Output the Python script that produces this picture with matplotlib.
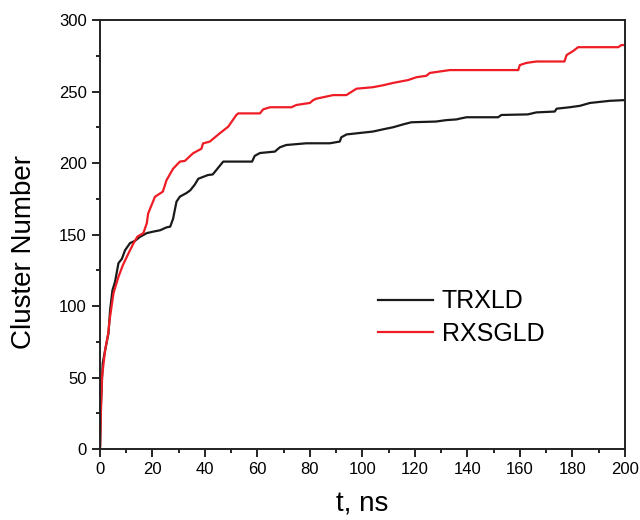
import matplotlib
matplotlib.use("Agg")
import matplotlib.pyplot as plt
from matplotlib.ticker import MultipleLocator

plt.rcParams['font.family'] = ['Liberation Sans', 'DejaVu Sans']

# TRXLD (black)
t_trxld = [0, 0.1, 0.4, 1.1, 2, 3.3, 3.9, 4.8, 5.8, 7.1, 8.4, 9.6, 11.5, 13.4, 15.4, 17.9,
           20.3, 23, 25.4, 26.8, 27.9, 29.2, 30.5, 33, 34.5, 36.2, 37.5, 41.2, 43, 45, 47,
           58, 59, 61, 66.7, 67.3, 68.6, 71, 78.7, 87.6, 91.4, 92, 94, 99, 104, 108, 111.7,
           115.5, 118.7, 128, 132, 135.9, 137, 139.7, 151.7, 153, 163, 166.3, 173.3, 174,
           179, 182.9, 186.7, 194.3, 200]
n_trxld = [0, 2, 30, 60, 69, 81, 97, 111, 117, 130, 133, 139, 144, 145.6, 148.5, 151,
           152, 153, 155, 155.5, 161, 173, 176.5, 179, 181, 185, 189, 191.6, 192, 196.5, 201,
           201, 205, 207, 208, 209, 211, 212.6, 213.8, 213.8, 215, 218, 220, 221, 222, 223.6, 225,
           227, 228.5, 229, 230, 230.5, 231, 232, 232, 233.6, 234, 235.4, 236, 238,
           239, 240, 242, 243.5, 244]

# RXSGLD (red)
t_rxsgld = [0, 0.1, 0.4, 0.8, 2, 3.2, 3.7, 5.2, 7.1, 8.8, 10.9, 12.8, 14.3, 16.6, 17.9,
            18.4, 21, 24, 25.4, 27.9, 30.5, 32.4, 35.5, 38.7, 39.3, 41.9, 45.7, 48.9, 52,
            52.7, 61, 62.2, 64.8, 73, 74.9, 80, 81.3, 82.5, 88.9, 93.9, 97.8, 104, 108,
            111.7, 117.4, 120.6, 124.4, 125.7, 129.5, 133.3, 159.4, 160, 162.5, 166.3, 177,
            177.8, 180.3, 182.2, 197.5, 198.7, 200]
n_rxsgld = [0, 2, 25, 50, 69, 81, 90, 109, 120.5, 128.7, 136.8, 143.8, 148.5, 151, 158,
            164.7, 176.4, 180, 188, 196, 201, 201.5, 206.8, 210, 213.7, 215, 220.8, 225.4, 233.6,
            234.7, 234.7, 237.5, 239, 239, 240.6, 242, 244, 245, 247.5, 247.5, 252, 253, 254.4,
            256, 258, 260, 261, 263, 264, 265, 265, 268.5, 270, 271, 271,
            275.5, 278.3, 281, 281, 282.5, 282.5]

fig = plt.figure(figsize=(6.4, 5.2), dpi=100)
ax = fig.add_axes([0.156, 0.1365, 0.8203, 0.825])

ax.plot(t_trxld, n_trxld, color='#1a1a1a', lw=1.6, label='TRXLD')
ax.plot(t_rxsgld, n_rxsgld, color='#ee1c24', lw=1.6, label='RXSGLD')

ax.set_xlim(0, 200)
ax.set_ylim(0, 300)
ax.xaxis.set_major_locator(MultipleLocator(20))
ax.xaxis.set_minor_locator(MultipleLocator(10))
ax.yaxis.set_major_locator(MultipleLocator(50))
ax.yaxis.set_minor_locator(MultipleLocator(25))
ax.tick_params(which='major', direction='out', length=6, width=1.2, labelsize=12)
ax.tick_params(which='minor', direction='out', length=3, width=1.2)
for s in ax.spines.values():
    s.set_linewidth(1.4)
    s.set_color('#222222')

ax.set_xlabel('t, ns', fontsize=20)
ax.xaxis.set_label_coords(0.5, -0.1)
ax.set_ylabel('Cluster Number', fontsize=20)
ax.yaxis.set_label_coords(-0.12, 0.46)

ax.legend(loc='upper left', bbox_to_anchor=(0.53, 0.372), frameon=False, fontsize=18,
          handlelength=2.2, handletextpad=0.35, labelspacing=0.35, borderpad=0,
          borderaxespad=0)

fig.savefig('out.png', dpi=100)
